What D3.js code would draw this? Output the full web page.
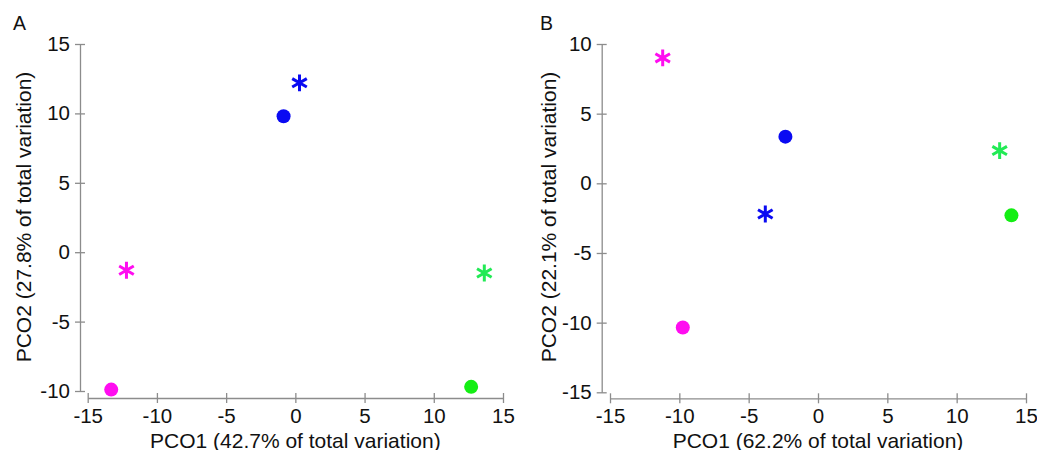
<!DOCTYPE html>
<html>
<head>
<meta charset="utf-8">
<script src="https://cdn.jsdelivr.net/npm/d3@7"></script>
<style>
  body { margin: 0; background: #fff; }
  svg { display: block; font-family: "Liberation Sans", Arial, sans-serif; }
</style>
</head>
<body>
<svg id="chart" width="1037" height="450"></svg>
<script>
// PCO ordination, two panels (A, B)
const groups   = ["blue", "magenta", "green"];
const fillCol  = { blue: "#0a0af2", magenta: "#ff0df0", green: "#14ee14" };
const starCol  = { blue: "#0a0af2", magenta: "#ff0df0", green: "#22ea55" };

// panel A: circles and asterisks per group, [PCO1, PCO2]
const circlesA = [[-0.85, 9.8], [-13.3, -9.9], [12.7, -9.7]];
const starsA   = [[0.3, 12.2], [-12.2, -1.3], [13.65, -1.5]];
// panel B
const circlesB = [[-2.35, 3.35], [-9.75, -10.35], [13.95, -2.3]];
const starsB   = [[-3.8, -2.2], [-11.2, 9.0], [13.1, 2.35]];

const xTicks = [-15, -10, -5, 0, 5, 10, 15];
const yTicksA = [-10, -5, 0, 5, 10, 15];
const yTicksB = [-15, -10, -5, 0, 5, 10];

const svg = d3.select("#chart");

const panels = [
  { label: "A", circles: circlesA, stars: starsA, yTicks: yTicksA, yDom: [-10, 15],
    xRange: [87.7, 503], yRange: [391, 44], yAxisX: 80, xAxisY: 398,
    xTitle: "PCO1 (42.7% of total variation)", yTitle: "PCO2 (27.8% of total variation)",
    labelX: 13, yTitleX: 31 },
  { label: "B", circles: circlesB, stars: starsB, yTicks: yTicksB, yDom: [-15, 10],
    xRange: [610, 1026], yRange: [392.3, 44], yAxisX: 601.7, xAxisY: 398.3,
    xTitle: "PCO1 (62.2% of total variation)", yTitle: "PCO2 (22.1% of total variation)",
    labelX: 540, yTitleX: 556 }
];

const star = d3.symbol().type(d3.symbolAsterisk).size(200);
const fmt = d => String(d); // plain hyphen for negatives

panels.forEach(p => {
  const x = d3.scaleLinear().domain([-15, 15]).range(p.xRange);
  const y = d3.scaleLinear().domain(p.yDom).range(p.yRange);
  const g = svg.append("g");

  // x axis (ticks cross the line)
  const gx = g.append("g")
    .attr("transform", `translate(0,${p.xAxisY})`)
    .call(d3.axisBottom(x).tickValues(xTicks).tickFormat(fmt)
      .tickSize(5).tickSizeOuter(0).tickPadding(5));
  gx.selectAll(".tick line").attr("y1", -5);

  // y axis
  const gy = g.append("g")
    .attr("transform", `translate(${p.yAxisX},0)`)
    .call(d3.axisLeft(y).tickValues(p.yTicks).tickFormat(fmt)
      .tickSize(5).tickSizeOuter(0).tickPadding(5));
  gy.selectAll(".tick line").attr("x1", 5);

  g.selectAll(".domain, .tick line").attr("stroke", "#8c8c8c").attr("stroke-width", 1.3);
  g.selectAll(".tick text").attr("fill", "#111").style("font-size", "20.5px")
    .style("font-family", "'Liberation Sans', Arial, sans-serif");

  // titles
  g.append("text")
    .attr("x", (p.xRange[0] + p.xRange[1]) / 2).attr("y", 447.5)
    .attr("text-anchor", "middle").attr("fill", "#111").style("font-size", "21px")
    .text(p.xTitle);
  g.append("text")
    .attr("transform", `translate(${p.yTitleX},217) rotate(-90)`)
    .attr("text-anchor", "middle").attr("fill", "#111").style("font-size", "21px")
    .text(p.yTitle);
  g.append("text")
    .attr("x", p.labelX).attr("y", 30)
    .attr("fill", "#111").style("font-size", "19.5px")
    .text(p.label);

  // markers
  g.selectAll("circle.pt")
    .data(p.circles)
    .join("circle")
    .attr("class", "pt")
    .attr("cx", d => x(d[0]))
    .attr("cy", d => y(d[1]))
    .attr("r", 7)
    .attr("fill", (d, i) => fillCol[groups[i]]);

  g.selectAll("path.star")
    .data(p.stars)
    .join("path")
    .attr("class", "star")
    .attr("transform", d => `translate(${x(d[0])},${y(d[1])})`)
    .attr("d", star)
    .attr("fill", "none")
    .attr("stroke", (d, i) => starCol[groups[i]])
    .attr("stroke-width", 3);
});
</script>
</body>
</html>
